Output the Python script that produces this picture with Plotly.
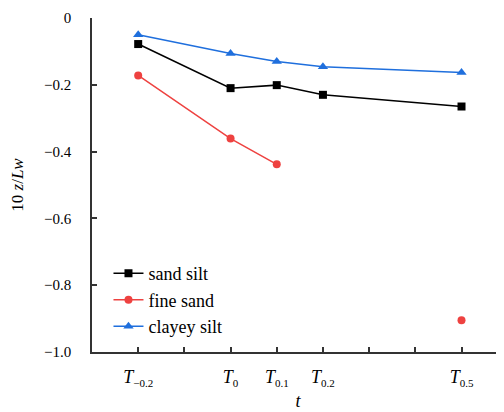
import plotly.graph_objects as go

x_vals = [-0.2, 0.0, 0.1, 0.2, 0.5]
sand_silt = [-0.078, -0.210, -0.201, -0.230, -0.265]
fine_sand = [-0.172, -0.361, -0.438, None, -0.905]
clayey_silt = [-0.050, -0.106, -0.130, -0.146, -0.163]

x_tickvals = [-0.2, -0.1, 0.0, 0.1, 0.2, 0.3, 0.4, 0.5]
x_subs = ["−0.2", "", "0", "0.1", "0.2", "", "", "0.5"]
y_tickvals = [0, -0.2, -0.4, -0.6, -0.8, -1.0]
y_ticktext = ["0", "−0.2", "−0.4", "−0.6", "−0.8", "−1.0"]

x_ticktext = [
    ("<i>T</i><sub><span style='font-size:11px'>%s</span></sub>" % s) if s else ""
    for s in x_subs
]

font = "Liberation Serif"

fig = go.Figure()
fig.add_trace(go.Scatter(x=x_vals, y=sand_silt, name="sand silt", mode="lines+markers",
                         line=dict(color="black", width=1.5),
                         marker=dict(symbol="square", size=8, color="black")))
fig.add_trace(go.Scatter(x=x_vals, y=fine_sand, name="fine sand", mode="lines+markers",
                         connectgaps=False,
                         line=dict(color="#EE4240", width=1.5),
                         marker=dict(symbol="circle", size=8, color="#EE4240")))
fig.add_trace(go.Scatter(x=x_vals, y=clayey_silt, name="clayey silt", mode="lines+markers",
                         line=dict(color="#1F6FDD", width=1.5),
                         marker=dict(symbol="triangle-up", size=9, color="#1F6FDD")))

fig.update_layout(
    width=496, height=404,
    margin=dict(l=84, r=0, t=10, b=60),
    paper_bgcolor="white", plot_bgcolor="white",
    font=dict(family=font, size=16, color="black"),
    showlegend=True,
    legend=dict(x=0.04, y=0.29, xanchor="left", yanchor="top",
                font=dict(family=font, size=18, color="black"),
                bgcolor="rgba(0,0,0,0)", tracegroupgap=0, itemwidth=30),
    xaxis=dict(range=[-0.3, 0.592], tickvals=x_tickvals, ticktext=x_ticktext,
               ticks="inside", ticklen=5, tickwidth=1.5, tickcolor="#333",
               showline=True, linecolor="#333", linewidth=1.5,
               showgrid=False, zeroline=False,
               ticklabelstandoff=8,
               tickfont=dict(family=font, size=18),
               title=dict(text="<i>t</i>", font=dict(family=font, size=18), standoff=6)),
    yaxis=dict(range=[-1.0, 0], tickvals=y_tickvals, ticktext=y_ticktext,
               ticks="inside", ticklen=5, tickwidth=1.5, tickcolor="#333",
               showline=True, linecolor="#333", linewidth=1.5,
               showgrid=False, zeroline=False,
               ticklabelstandoff=16,
               tickfont=dict(family=font, size=15),
               title=dict(text="10 <i>z</i>/<i>Lw</i>", font=dict(family=font, size=17), standoff=20)),
)

fig.write_html("out.html")
